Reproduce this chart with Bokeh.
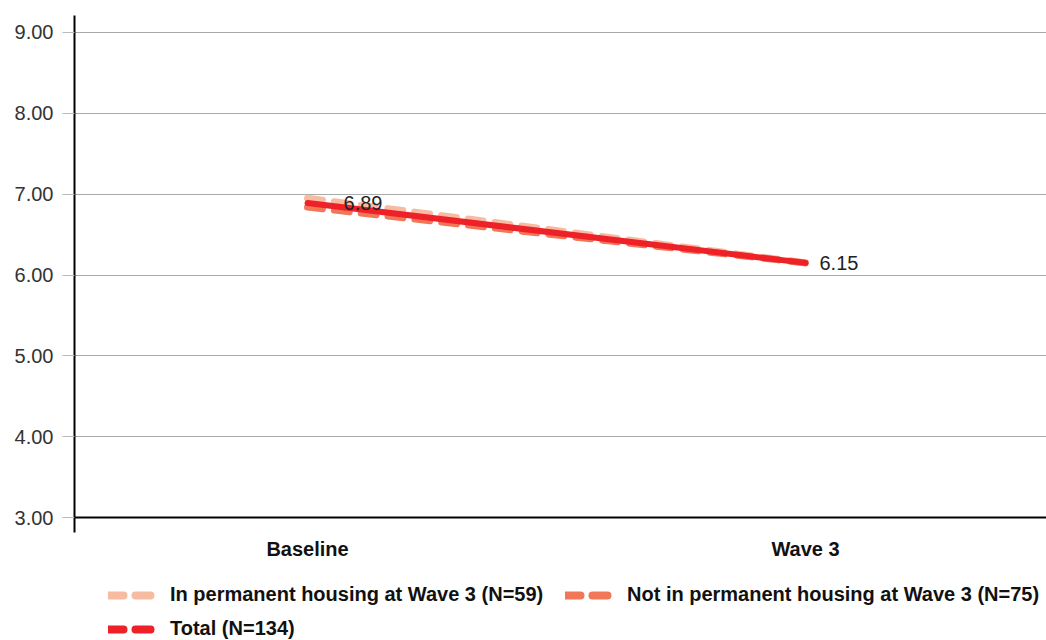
from bokeh.plotting import figure
from bokeh.layouts import column
from bokeh.models import (ColumnDataSource, FixedTicker, Range1d, Span, Legend,
                          LegendItem, NumeralTickFormatter)
from bokeh.core.properties import value
from bokeh.embed import file_html
from bokeh.resources import INLINE

# Survey waves and mean scores per group
waves = ["Baseline", "Wave 3"]
wave_pos = [0, 1]
permanent = [6.95, 6.15]
not_permanent = [6.84, 6.15]
total = [6.89, 6.15]
total_labels = ["6.89", "6.15"]
y_ticks = [3, 4, 5, 6, 7, 8, 9]
series_names = ["In permanent housing at Wave 3 (N=59)",
                "Not in permanent housing at Wave 3 (N=75)",
                "Total (N=134)"]

FONT = "Liberation Sans"
C_PERM = "#F7BBA2"
C_NOT = "#F07859"
C_TOTAL = "#EE2028"
DASH = "15 12"

p = figure(width=1046, height=562, output_backend="svg", toolbar_location=None,
           x_range=Range1d(-0.468, 1.484), y_range=Range1d(2.815, 9.21),
           min_border_left=74, min_border_top=15, min_border_right=0,
           min_border_bottom=29)
p.outline_line_color = None

src = ColumnDataSource(dict(x=wave_pos, perm=permanent, notp=not_permanent,
                            total=total, lab=total_labels, dx=[36, 14]))

p.line("x", "perm", source=src, line_color=C_PERM, line_width=7,
       line_dash=DASH, line_cap="round")
p.line("x", "notp", source=src, line_color=C_NOT, line_width=7,
       line_dash=DASH, line_cap="round")
p.line("x", "total", source=src, line_color=C_TOTAL, line_width=6,
       line_cap="round")

p.text("x", "total", text="lab", source=src, x_offset="dx",
       text_baseline="middle", text_align="left", text_font=value(FONT),
       text_font_size="20px", text_color="#222222")

# horizontal axis line at 3.00
p.add_layout(Span(location=3, dimension="width", line_color="black",
                  line_width=2))

# y axis
yax = p.yaxis[0]
yax.ticker = FixedTicker(ticks=y_ticks)
yax.formatter = NumeralTickFormatter(format="0.00")
yax.axis_line_color = "black"
yax.axis_line_width = 2
yax.major_tick_out = 12
yax.major_tick_in = 0
yax.major_tick_line_color = "#bbbbbb"
yax.minor_tick_line_color = None
yax.major_label_standoff = 9
yax.major_label_text_font = FONT
yax.major_label_text_font_size = "20px"
yax.major_label_text_color = "#333333"

# x axis: wave names only
xax = p.xaxis[0]
xax.ticker = FixedTicker(ticks=wave_pos)
xax.major_label_overrides = {i: w for i, w in zip(wave_pos, waves)}
xax.axis_line_color = None
xax.major_tick_line_color = None
xax.major_tick_out = 0
xax.major_tick_in = 0
xax.minor_tick_line_color = None
xax.major_label_standoff = 5
xax.major_label_text_font = FONT
xax.major_label_text_font_style = "bold"
xax.major_label_text_font_size = "20px"
xax.major_label_text_color = "#111111"

p.xgrid.grid_line_color = None
p.ygrid.ticker = FixedTicker(ticks=y_ticks)
p.ygrid.grid_line_color = "#aaaaaa"
p.ygrid.grid_line_width = 1

# key panel under the chart (its frame lines up with the chart's frame)
k = figure(width=1046, height=78, output_backend="svg", toolbar_location=None,
           x_axis_location=None, y_axis_location=None,
           x_range=Range1d(0, 1), y_range=Range1d(0, 1),
           min_border=0)
k.outline_line_color = None
k.grid.grid_line_color = None

key_perm = k.line(wave_pos, permanent, line_color=C_PERM, line_width=8,
                  line_dash=DASH, line_cap="round", visible=False)
key_not = k.line(wave_pos, not_permanent, line_color=C_NOT, line_width=8,
                 line_dash=DASH, line_cap="round", visible=False)
key_tot = k.line(wave_pos, total, line_color=C_TOTAL, line_width=8,
                 line_dash=DASH, line_cap="round", visible=False)

# two columns, filled column by column; location is the bottom-left corner
legend = Legend(items=[
    LegendItem(label=series_names[0], renderers=[key_perm]),
    LegendItem(label=series_names[2], renderers=[key_tot]),
    LegendItem(label=series_names[1], renderers=[key_not]),
], ncols=2, location=(34, 0))
legend.border_line_color = None
legend.background_fill_alpha = 0
legend.label_text_font = FONT
legend.label_text_font_style = "bold"
legend.label_text_font_size = "20px"
legend.label_text_color = "#111111"
legend.glyph_width = 50
legend.glyph_height = 22
legend.label_height = 22
legend.label_width = 384
legend.label_standoff = 12
legend.spacing = 11
legend.padding = 0
legend.margin = 0
k.add_layout(legend, "center")

open("out.html", "w").write(file_html(column(p, k), INLINE))
